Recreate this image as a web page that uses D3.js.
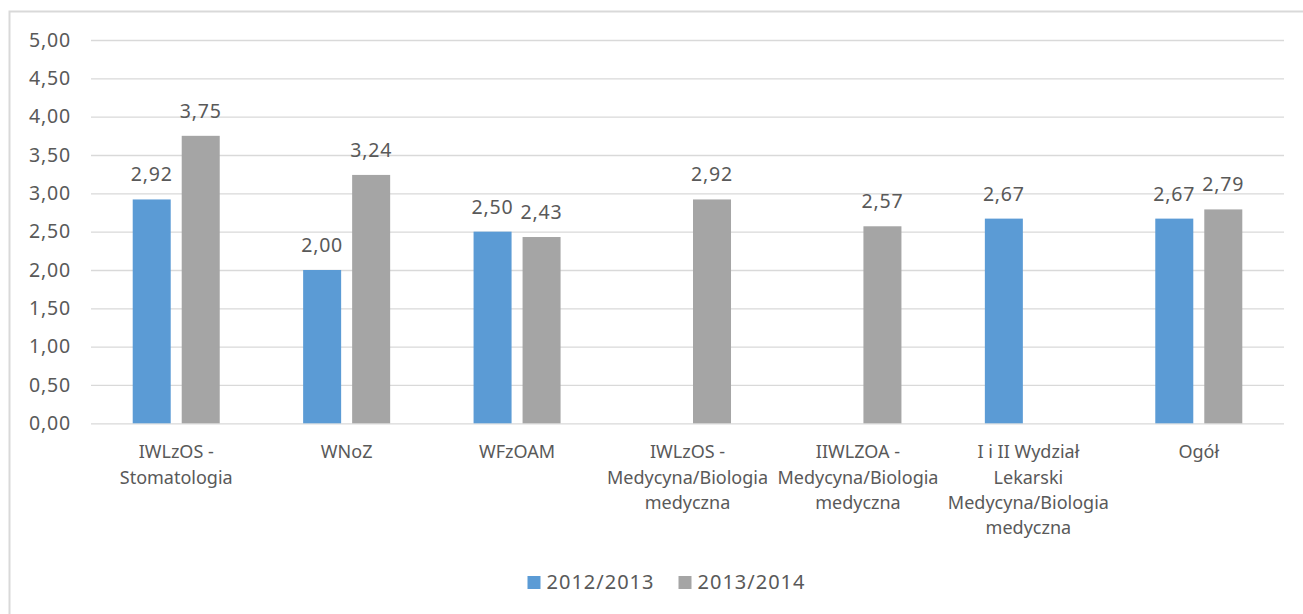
<!DOCTYPE html>
<html>
<head>
<meta charset="utf-8">
<script src="https://cdn.jsdelivr.net/npm/d3@7"></script>
<style>
  body { margin: 0; background: #fff; }
  text { font-family: "Noto Sans", sans-serif; fill: #595959; }
</style>
</head>
<body>
<div id="chart"></div>
<script>
// data
var categories = [
    "IWLzOS -\nStomatologia",
    "WNoZ",
    "WFzOAM",
    "IWLzOS -\nMedycyna/Biologia\nmedyczna",
    "IIWLZOA -\nMedycyna/Biologia\nmedyczna",
    "I i II Wydział\nLekarski\nMedycyna/Biologia\nmedyczna",
    "Ogół"
];
var series = ["2012/2013", "2013/2014"];
var values2012 = [2.92, 2.00, 2.50, null, null, 2.67, 2.67];
var values2013 = [3.75, 3.24, 2.43, 2.92, 2.57, null, 2.79];
var yTicks = [0, 0.5, 1, 1.5, 2, 2.5, 3, 3.5, 4, 4.5, 5];
var colors = ["#5B9BD5", "#A5A5A5"];

var W = 1303, H = 614;
var plot = {left: 91, right: 1284, top: 40, bottom: 423.3};

var fmt = function (v) { return v.toFixed(2).replace(".", ","); };

var svg = d3.select("#chart").append("svg")
    .attr("width", W)
    .attr("height", H);

// chart frame (only top and left edge are in the picture)
svg.append("rect")
    .attr("x", 9.5).attr("y", 11.5)
    .attr("width", W + 20).attr("height", H + 20)
    .attr("fill", "none")
    .attr("stroke", "#D9D9D9")
    .attr("stroke-width", 2);

var x = d3.scaleBand().domain(categories).range([plot.left, plot.right]).padding(0);
var x1 = d3.scaleBand().domain(series).range([0, x.bandwidth()])
    .paddingInner(0.2245).paddingOuter(0.851);
var y = d3.scaleLinear().domain([0, 5]).range([plot.bottom, plot.top]);

// y axis + gridlines
var yaxis = d3.axisLeft(y)
    .tickValues(yTicks)
    .tickSize(-(plot.right - plot.left))
    .tickPadding(20)
    .tickFormat(fmt);

var gy = svg.append("g")
    .attr("transform", "translate(" + plot.left + ",0)")
    .call(yaxis);
gy.select(".domain").remove();
gy.selectAll("line").attr("stroke", "#D9D9D9").attr("stroke-width", 1.3);
gy.selectAll("text")
    .style("font-size", "19.5px")
    .style("letter-spacing", "0.8px")
    .style("font-family", "'Noto Sans', sans-serif")
    .attr("fill", "#595959");

// bars
var rows = categories.map(function (c, i) {
    return {cat: c, vals: [values2012[i], values2013[i]]};
});

var groups = svg.selectAll("g.grp")
    .data(rows)
    .enter().append("g")
    .attr("class", "grp")
    .attr("transform", function (d) { return "translate(" + x(d.cat) + ",0)"; });

var cells = groups.selectAll("g.cell")
    .data(function (d) {
        return series.map(function (s, j) { return {s: s, j: j, v: d.vals[j]}; })
            .filter(function (e) { return e.v != null; });
    })
    .enter().append("g").attr("class", "cell");

cells.append("rect")
    .attr("x", function (d) { return x1(d.s); })
    .attr("width", x1.bandwidth())
    .attr("y", function (d) { return y(d.v); })
    .attr("height", function (d) { return y(0) - y(d.v); })
    .attr("fill", function (d) { return colors[d.j]; });

cells.append("text")
    .attr("x", function (d) { return x1(d.s) + x1.bandwidth() / 2; })
    .attr("y", function (d) { return y(d.v) - 18; })
    .attr("text-anchor", "middle")
    .style("font-size", "19.5px")
    .style("letter-spacing", "0.8px")
    .text(function (d) { return fmt(d.v); });

// category labels
var gx = svg.append("g")
    .attr("transform", "translate(0," + plot.bottom + ")")
    .call(d3.axisBottom(x).tickSize(0).tickFormat(""));
gx.select(".domain").remove();

gx.selectAll(".tick").each(function (d) {
    var t = d3.select(this).append("text")
        .attr("text-anchor", "middle")
        .attr("y", 35)
        .style("font-size", "18px")
        .style("font-family", "'Noto Sans', sans-serif")
        .attr("fill", "#595959");
    d.split("\n").forEach(function (line, k) {
        t.append("tspan").attr("x", 0).attr("dy", k === 0 ? 0 : 25.3).text(line);
    });
});

// legend
var legendX = [527.5, 678.5];
var legend = svg.append("g").selectAll("g")
    .data(series)
    .enter().append("g")
    .attr("transform", function (d, i) { return "translate(" + legendX[i] + ",576)"; });
legend.append("rect")
    .attr("width", 13).attr("height", 13)
    .attr("fill", function (d, i) { return colors[i]; });
legend.append("text")
    .attr("x", 19).attr("y", 13)
    .style("font-size", "20px")
    .style("letter-spacing", "1px")
    .text(function (d) { return d; });
</script>
</body>
</html>
